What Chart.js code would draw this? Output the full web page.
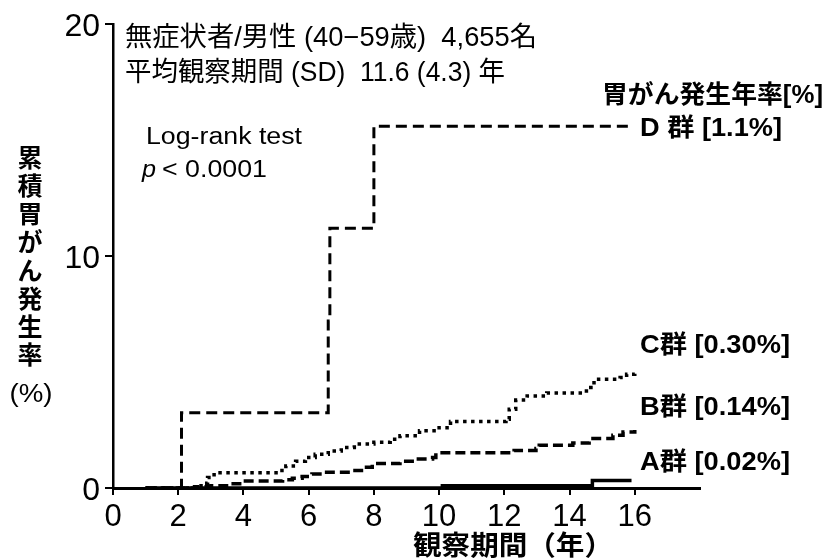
<!DOCTYPE html>
<html lang="ja">
<head>
  <meta charset="UTF-8">
  <title>累積胃がん発生率</title>
  <script src="https://cdn.jsdelivr.net/npm/chart.js"></script>
  <style>
    body { margin: 0; background: #fff; }
    #wrap { width: 829px; height: 560px; }
  </style>
</head>
<body>
  <div id="wrap"><canvas id="kmChart" width="829" height="560"></canvas></div>

  <script>
    // years since entry / cumulative incidence (%) for each group
    const dYears = [1.0, 2.1, 6.6, 6.65, 8.0, 15.95];
    const dRates = [0, 3.25, 7.2, 11.2, 15.6, 15.6];

    const cYears = [1.0, 2.7, 2.9, 3.1, 5.0, 5.3, 5.6, 5.9, 6.2, 6.6, 7.0, 7.4, 8.0, 8.5, 8.8, 9.4, 10.0, 10.35, 12.05, 12.15, 12.35, 12.7, 13.3, 14.4, 14.65, 14.75, 15.55, 15.75, 16.0];
    const cRates = [0, 0.2, 0.45, 0.66, 0.75, 0.95, 1.15, 1.32, 1.45, 1.6, 1.75, 1.9, 1.97, 2.1, 2.25, 2.47, 2.6, 2.87, 2.97, 3.4, 3.79, 3.97, 4.1, 4.18, 4.33, 4.69, 4.76, 4.9, 5.1];

    const bYears = [1.0, 2.5, 3.0, 3.6, 3.95, 5.2, 5.5, 5.8, 6.1, 6.4, 7.3, 7.7, 7.95, 8.8, 9.3, 9.8, 9.9, 12.3, 12.97, 13.07, 14.1, 14.6, 15.33, 15.64, 16.0];
    const bRates = [0, 0.05, 0.1, 0.18, 0.3, 0.36, 0.42, 0.5, 0.6, 0.68, 0.75, 0.9, 1.06, 1.15, 1.25, 1.32, 1.52, 1.62, 1.7, 1.84, 1.94, 2.13, 2.27, 2.42, 2.5];

    const aYears = [1.0, 10.1, 14.7, 15.9];
    const aRates = [0, 0.1, 0.32, 0.32];

    const xTicks = [0, 2, 4, 6, 8, 10, 12, 14, 16];
    const yTicks = [0, 10, 20];

    const groupLabels = ['D 群 [1.1%]', 'C群 [0.30%]', 'B群 [0.14%]', 'A群 [0.02%]'];

    const SANS = "'Liberation Sans', Arial, 'Noto Sans CJK JP', sans-serif";

    function toPoints(xs, ys) {
      return xs.map((x, i) => ({ x: x, y: ys[i] }));
    }

    // draw text squeezed/stretched to a given width
    function fitText(ctx, text, x, y, font, width, align) {
      ctx.save();
      ctx.font = font;
      const sx = width / ctx.measureText(text).width;
      ctx.translate(x, y);
      ctx.scale(sx, 1);
      ctx.textAlign = align || 'left';
      ctx.fillText(text, 0, 0);
      ctx.restore();
    }

    const textPlugin = {
      id: 'texts',
      afterDraw(chart) {
        const ctx = chart.ctx;
        ctx.save();
        ctx.fillStyle = '#000';
        ctx.textBaseline = 'alphabetic';

        // header
        fitText(ctx, '無症状者/男性 (40−59歳)  4,655名', 125, 46, '27px ' + SANS, 412);
        fitText(ctx, '平均観察期間 (SD)  11.6 (4.3) 年', 125, 81, '27px ' + SANS, 380);

        // log-rank
        fitText(ctx, 'Log-rank test', 146, 144, '23px ' + SANS, 156);
        fitText(ctx, 'p', 142, 177, 'italic 23px ' + SANS, 14);
        fitText(ctx, '< 0.0001', 162, 177, '23px ' + SANS, 105);

        // group labels
        const bold = 'bold 25px ' + SANS;
        fitText(ctx, '胃がん発生年率[%]', 823, 103, bold, 221, 'right');
        fitText(ctx, groupLabels[0], 640, 136, bold, 142);
        fitText(ctx, groupLabels[1], 640, 353, bold, 150);
        fitText(ctx, groupLabels[2], 640, 415, bold, 150);
        fitText(ctx, groupLabels[3], 640, 470, bold, 150);

        // x title
        fitText(ctx, '観察期間（年）', 413, 555, 'bold 27px ' + SANS, 200);

        // y title, stacked
        ctx.textBaseline = 'middle';
        ctx.textAlign = 'center';
        const chars = ['累', '積', '胃', 'が', 'ん', '発', '生', '率'];
        ctx.font = 'bold 25px ' + SANS;
        chars.forEach((c, i) => ctx.fillText(c, 30, 160 + i * 28.2));
        fitText(ctx, '(%)', 31, 395, '25px ' + SANS, 43, 'center');
        ctx.restore();
      }
    };

    const common = {
      showLine: true,
      stepped: true,
      pointRadius: 0,
      borderColor: '#000',
      borderCapStyle: 'butt',
      borderJoinStyle: 'miter',
      fill: false
    };

    new Chart(document.getElementById('kmChart'), {
      type: 'scatter',
      data: {
        datasets: [
          { ...common, label: 'D', data: toPoints(dYears, dRates), borderWidth: 3, borderDash: [11, 6] },
          { ...common, label: 'C', data: toPoints(cYears, cRates), borderWidth: 3.5, borderDash: [3.5, 4.5] },
          { ...common, label: 'B', data: toPoints(bYears, bRates), borderWidth: 3.5, borderDash: [10, 5] },
          { ...common, label: 'A', data: toPoints(aYears, aRates), borderWidth: 3.5 }
        ]
      },
      options: {
        responsive: false,
        animation: false,
        devicePixelRatio: 1,
        layout: { padding: { left: 0, top: 21, right: 129, bottom: 0 } },
        plugins: { legend: { display: false }, tooltip: { enabled: false } },
        scales: {
          x: {
            type: 'linear',
            min: 0,
            max: 18,
            afterBuildTicks(scale) { scale.ticks = xTicks.map(v => ({ value: v })); },
            afterFit(scale) { scale.height = 72; },
            ticks: { color: '#000', padding: 4, font: { family: SANS, size: 31 } },
            grid: { drawOnChartArea: false, color: '#000', lineWidth: 2, tickLength: 7 },
            border: { color: '#000', width: 3 }
          },
          y: {
            min: 0,
            max: 20,
            afterBuildTicks(scale) { scale.ticks = yTicks.map(v => ({ value: v })); },
            afterFit(scale) { scale.width = 113; },
            ticks: { color: '#000', padding: 5, labelOffset: 3, font: { family: SANS, size: 32 } },
            grid: { drawOnChartArea: false, color: '#000', lineWidth: 2, tickLength: 8 },
            border: { color: '#000', width: 2.5 }
          }
        }
      },
      plugins: [textPlugin]
    });
  </script>
</body>
</html>
